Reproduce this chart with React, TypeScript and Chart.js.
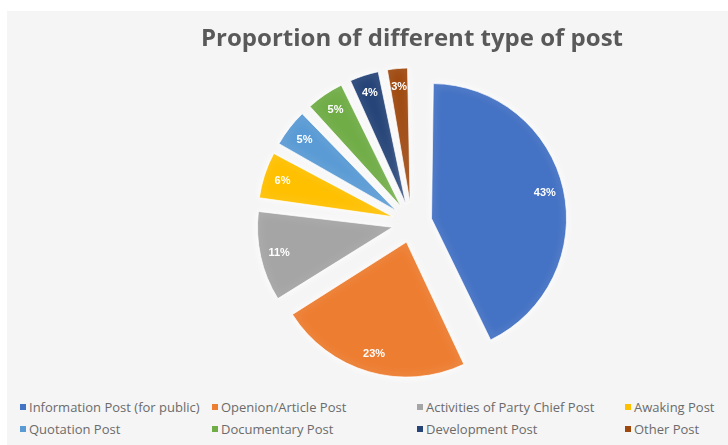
import React, { useEffect, useRef } from 'react';
import { Chart, registerables } from 'chart.js';

Chart.register(...registerables);

const titleText = 'Proportion of different type of post';
const categories = [
  'Information Post (for public)',
  'Openion/Article Post',
  'Activities of Party Chief Post',
  'Awaking Post',
  'Quotation Post',
  'Documentary Post',
  'Development Post',
  'Other Post',
];
const shares = [43, 23, 11, 6, 5, 5, 4, 3];
const sliceColors = ['#4472C4', '#ED7D31', '#A5A5A5', '#FFC000', '#5B9BD5', '#70AD47', '#264478', '#9E480E'];

const EXPLODE = 20;
const RADIUS = 135;
const legendCols = [20, 212, 417, 625];
const legendRows = [399, 421];

const fixFor = (c: number) => 1 - Math.sin(Math.min(Math.PI, c || 0));

const piePlugin = {
  id: 'pieLook',
  beforeDatasetsDraw(chart: any) {
    const meta = chart.getDatasetMeta(0);
    meta.data.forEach((arc: any) => {
      arc.outerRadius = RADIUS - EXPLODE * fixFor(arc.circumference);
    });
    const ctx = chart.ctx;
    ctx.save();
    ctx.shadowColor = 'rgba(255,255,255,0.9)';
    ctx.shadowBlur = 8;
  },
  afterDatasetsDraw(chart: any) {
    const ctx = chart.ctx;
    ctx.restore();
    const meta = chart.getDatasetMeta(0);
    ctx.save();
    ctx.fillStyle = '#ffffff';
    ctx.font = 'bold 11px "Liberation Sans"';
    ctx.textAlign = 'center';
    ctx.textBaseline = 'middle';
    meta.data.forEach((arc: any, i: number) => {
      const mid = (arc.startAngle + arc.endAngle) / 2;
      const r = EXPLODE + RADIUS * 0.86;
      ctx.fillText(shares[i] + '%', arc.x + Math.cos(mid) * r, arc.y + Math.sin(mid) * r);
    });
    ctx.restore();
  },
};

export default function App() {
  const ref = useRef<HTMLCanvasElement | null>(null);

  useEffect(() => {
    if (!ref.current) return;
    const chart = new Chart(ref.current, {
      type: 'pie',
      data: {
        labels: categories,
        datasets: [
          {
            data: shares,
            backgroundColor: sliceColors,
            borderColor: 'rgba(255,255,255,0.7)',
            borderWidth: 1,
            offset: EXPLODE * 4,
            radius: RADIUS,
          } as any,
        ],
      },
      options: {
        animation: false,
        responsive: false,
        maintainAspectRatio: false,
        devicePixelRatio: 1,
        layout: { padding: 0 },
        plugins: {
          legend: { display: false },
          tooltip: { enabled: false },
          title: {
            display: true,
            text: titleText,
            color: '#595959',
            font: { family: '"Open Sans"', size: 24, weight: 'bold' },
            padding: { top: 25, bottom: 0 },
          },
        },
      } as any,
      plugins: [piePlugin],
    });
    return () => chart.destroy();
  }, []);

  return (
    <div style={{ position: 'fixed', left: 0, top: 0, width: 728, height: 445, background: '#ffffff', overflow: 'hidden' }}>
      <div style={{ position: 'absolute', left: 7, top: 11, width: 721, height: 434, background: '#f5f5f5' }} />
      <canvas ref={ref} width={632} height={392} style={{ position: 'absolute', left: 96, top: 0, width: 632, height: 392 }} />
      {categories.map((c, i) => (
        <div
          key={c}
          style={{
            position: 'absolute',
            left: legendCols[i % 4],
            top: legendRows[Math.floor(i / 4)],
            height: 16,
            lineHeight: '16px',
            display: 'flex',
            alignItems: 'center',
            fontFamily: '"Open Sans"',
            fontSize: 13,
            color: '#6b6b6b',
            whiteSpace: 'nowrap',
          }}
        >
          <span style={{ display: 'inline-block', width: 6, height: 6, background: sliceColors[i], marginRight: 3 }} />
          {c}
        </div>
      ))}
    </div>
  );
}
